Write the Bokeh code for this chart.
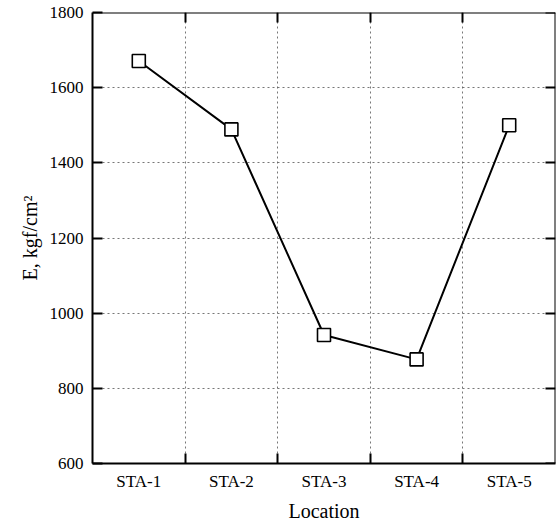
from bokeh.plotting import figure
from bokeh.models import (LinearAxis, FixedTicker, Range1d, Grid, ColumnDataSource)
from bokeh.embed import file_html
from bokeh.resources import INLINE

# ---- data ----
locations = ["STA-1", "STA-2", "STA-3", "STA-4", "STA-5"]
modulus_E = [1671, 1489, 942, 877, 1500]
y_ticks = [600, 800, 1000, 1200, 1400, 1600, 1800]

FONT = "Liberation Serif"

xpos = [i + 0.5 for i in range(len(locations))]
boundaries = [i for i in range(1, len(locations))]
src = ColumnDataSource(dict(x=xpos, y=modulus_E, name=locations))

p = figure(width=556, height=524, output_backend="svg", toolbar_location=None,
           x_range=Range1d(0, len(locations)), y_range=Range1d(y_ticks[0], y_ticks[-1]),
           x_axis_type=None, y_axis_type=None,
           min_border_left=92, min_border_right=1, min_border_top=12, min_border_bottom=50)
p.outline_line_color = None
p.background_fill_color = "white"
p.border_fill_color = "white"

label_map = {x: n for x, n in zip(xpos, locations)}

def style_axis(ax, labels=True):
    ax.axis_line_width = 2
    ax.axis_line_color = "black"
    ax.major_tick_in = 10
    ax.major_tick_out = 0
    ax.major_tick_line_width = 2
    ax.major_tick_line_color = "black"
    ax.minor_tick_in = 10
    ax.minor_tick_out = 0
    ax.minor_tick_line_width = 2
    ax.minor_tick_line_color = "black"
    ax.major_label_text_font = FONT
    ax.major_label_text_font_size = "17px"
    ax.major_label_text_color = "black" if labels else None
    ax.axis_label_text_font = FONT
    ax.axis_label_text_font_style = "normal"
    ax.axis_label_text_color = "black"

# left / right y axes
yl = LinearAxis(ticker=FixedTicker(ticks=y_ticks, minor_ticks=[]), axis_label="E, kgf/cm²")
style_axis(yl)
yl.axis_label_text_font_size = "20px"
yl.major_label_standoff = 9
yl.axis_label_standoff = 6
p.add_layout(yl, "left")

yr = LinearAxis(ticker=FixedTicker(ticks=y_ticks, minor_ticks=[]),
                fixed_location=len(locations))
style_axis(yr, labels=False)
p.add_layout(yr, "right")

# bottom / top x axes: labels at category centres, ticks at boundaries
xb = LinearAxis(ticker=FixedTicker(ticks=xpos, minor_ticks=boundaries), axis_label="Location")
style_axis(xb)
xb.major_tick_line_color = None
xb.major_label_overrides = label_map
xb.major_label_standoff = 8
xb.axis_label_standoff = 6
xb.axis_label_text_font_size = "20px"
p.add_layout(xb, "below")

xt = LinearAxis(ticker=FixedTicker(ticks=xpos, minor_ticks=boundaries),
                fixed_location=y_ticks[-1])
style_axis(xt, labels=False)
xt.major_tick_line_color = None
p.add_layout(xt, "above")

# dotted grids
gx = Grid(dimension=0, ticker=FixedTicker(ticks=boundaries, minor_ticks=[]))
gy = Grid(dimension=1, ticker=FixedTicker(ticks=y_ticks[1:-1], minor_ticks=[]))
for g in (gx, gy):
    g.grid_line_color = "#555555"
    g.grid_line_dash = "2 3"
    g.grid_line_width = 1
    g.grid_line_alpha = 0.8
    p.add_layout(g)

p.line("x", "y", source=src, line_color="black", line_width=2)
p.scatter("x", "y", source=src, marker="square", size=13, fill_color="white",
          line_color="black", line_width=1.6)

open("out.html", "w").write(file_html(p, INLINE))
